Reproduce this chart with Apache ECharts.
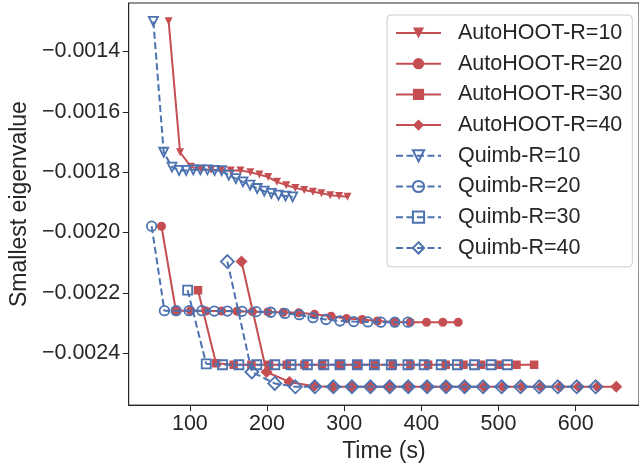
<!DOCTYPE html>
<html><head><meta charset="utf-8">
<script src="https://cdn.jsdelivr.net/npm/echarts@6/dist/echarts.min.js"></script>
<style>html,body{margin:0;padding:0;background:#fff}#c{width:639px;height:468px}</style>
</head><body><div id="c"></div>
<script>
// ---- tick labels ----
const xTicks = [100, 200, 300, 400, 500, 600];
const yTicks = [-0.0024, -0.0022, -0.0020, -0.0018, -0.0016, -0.0014];

// ---- series names ----
const seriesNames = ['AutoHOOT-R=10', 'AutoHOOT-R=20', 'AutoHOOT-R=30', 'AutoHOOT-R=40',
                     'Quimb-R=10', 'Quimb-R=20', 'Quimb-R=30', 'Quimb-R=40'];

// ---- data (time in s, smallest eigenvalue) ----
const autoR10_t = [72.5, 87.3, 101.3, 114.8, 127.5, 140.2, 152.9, 165.6, 178.3, 190.1, 201.5, 212.9, 224.8, 236.7, 248.1, 259.5, 270.5, 281.9, 293.3, 304.3];
const autoR10_v = [-0.0013, -0.001734, -0.001782, -0.001791, -0.001792, -0.001794, -0.001794, -0.001794, -0.0018, -0.001808, -0.001816, -0.001832, -0.001843, -0.001852, -0.001859, -0.001865, -0.00187, -0.001876, -0.001879, -0.001881];

const autoR20_t = [63.2, 81.9, 101, 121, 141, 161, 181, 201, 221, 241, 261.5, 283, 303, 323.3, 343, 365.6, 385.5, 406.7, 427.8, 447.7];
const autoR20_v = [-0.001979, -0.002259, -0.002259, -0.00226, -0.00226, -0.002261, -0.002262, -0.002263, -0.002264, -0.002266, -0.002271, -0.002277, -0.002285, -0.002288, -0.002293, -0.002296, -0.002297, -0.002297, -0.002297, -0.002297];

const autoR30_t = [110.5, 133.9, 156.8, 179.7, 202.6, 225.5, 248.4, 271.3, 294.2, 317.1, 340, 362.9, 385.8, 408.7, 431.6, 454.5, 477.4, 500.3, 523.2, 546.1];
const autoR30_v = [-0.002191, -0.002433, -0.002438, -0.002438, -0.002438, -0.002438, -0.002438, -0.002438, -0.002438, -0.002438, -0.002438, -0.002438, -0.002438, -0.002438, -0.002438, -0.002438, -0.002438, -0.002438, -0.002438, -0.002438];

const autoR40_t = [166.9, 199.4, 229, 260.8, 285.3, 309.8, 334.3, 358.8, 383.3, 407.8, 432.3, 456.8, 481.3, 505.8, 530.3, 554.8, 579.3, 603.8, 628.3, 652.5];
const autoR40_v = [-0.002096, -0.002462, -0.002495, -0.002509, -0.002511, -0.002511, -0.002511, -0.002511, -0.002511, -0.002511, -0.002511, -0.002511, -0.002511, -0.002511, -0.002511, -0.002511, -0.002511, -0.002511, -0.002511, -0.002511];

const quimbR10_t = [52.7, 66.1, 76.8, 86, 95.2, 104.4, 113.6, 122.8, 132, 141.2, 150.4, 159.6, 168.8, 178, 187.2, 196.4, 205.6, 214.8, 224, 233.2];
const quimbR10_v = [-0.0013, -0.001734, -0.001783, -0.001794, -0.001794, -0.001792, -0.001792, -0.001792, -0.001794, -0.001795, -0.00181, -0.001821, -0.001832, -0.001843, -0.001854, -0.001863, -0.00187, -0.001876, -0.001879, -0.001882];

const quimbR20_t = [50.5, 67, 82.2, 99.1, 115.6, 131.7, 148.6, 167.6, 185.9, 204.9, 223.1, 241.8, 259.5, 276.4, 294.5, 312.3, 330.6, 347.5, 365.6, 382.6];
const quimbR20_v = [-0.001979, -0.002259, -0.002259, -0.002259, -0.002259, -0.00226, -0.00226, -0.002261, -0.002262, -0.002264, -0.002268, -0.002272, -0.002282, -0.002288, -0.002293, -0.002295, -0.002296, -0.002297, -0.002297, -0.002297];

const quimbR30_t = [97.1, 121.2, 142.3, 163.5, 186.7, 210, 231.1, 252.3, 273.5, 294.5, 317, 339, 361, 382.6, 403.6, 425.7, 446.7, 468.8, 490.4, 511.5];
const quimbR30_v = [-0.002191, -0.002435, -0.002438, -0.002438, -0.002438, -0.002438, -0.002438, -0.002438, -0.002438, -0.002438, -0.002438, -0.002438, -0.002438, -0.002438, -0.002438, -0.002438, -0.002438, -0.002438, -0.002438, -0.002438];

const quimbR40_t = [148.6, 180.3, 210, 236.7, 262, 286, 310, 334, 359, 383, 407.5, 432, 456, 480, 504, 528.5, 552.7, 576.8, 601.3, 625.8];
const quimbR40_v = [-0.002096, -0.002462, -0.0025, -0.002511, -0.002511, -0.002511, -0.002511, -0.002511, -0.002511, -0.002511, -0.002511, -0.002511, -0.002511, -0.002511, -0.002511, -0.002511, -0.002511, -0.002511, -0.002511, -0.002511];

// ---- styling ----
const RED = '#C44E52', BLUE = '#4C72B0', INK = '#262626';
const FONT = '"Liberation Sans", Arial, Helvetica, sans-serif';

function pairs(t, v) { return t.map((x, i) => [x, v[i]]); }

function autoSeries(name, t, v, symbol, size, rotate) {
  return {
    name, type: 'line', data: pairs(t, v),
    symbol, symbolSize: size, symbolRotate: rotate || 0, showSymbol: true,
    lineStyle: { color: RED, width: 2, type: 'solid' },
    itemStyle: { color: RED, borderColor: RED, borderWidth: 0 },
    emphasis: { disabled: true }, z: 2
  };
}
function quimbSeries(name, t, v, symbol, size, rotate) {
  return {
    name, type: 'line', data: pairs(t, v),
    symbol, symbolSize: size, symbolRotate: rotate || 0, showSymbol: true,
    lineStyle: { color: BLUE, width: 2, type: [7, 3.5] },
    itemStyle: { color: 'rgba(255,255,255,0)', borderColor: BLUE, borderWidth: 1.8 },
    emphasis: { disabled: true }, z: 3
  };
}

const fmtY = v => (v < 0 ? '\u2212' : '') + Math.abs(v).toFixed(4);

const chart = echarts.init(document.getElementById('c'), null, { renderer: 'canvas' });
chart.setOption({
  animation: false,
  backgroundColor: '#ffffff',
  grid: { left: 122.5, right: -4.6, top: 3, bottom: 56, show: true, borderColor: INK, borderWidth: 1, backgroundColor: 'rgba(0,0,0,0)' },
  xAxis: {
    type: 'value', min: 20.75, max: 682,
    name: 'Time (s)', nameLocation: 'middle', nameGap: 30,
    nameTextStyle: { fontFamily: FONT, fontSize: 23, color: INK },
    axisLine: { show: true, lineStyle: { color: INK, width: 1 } },
    axisTick: { show: true, length: 6, lineStyle: { color: INK, width: 1 }, customValues: xTicks },
    axisLabel: { fontFamily: FONT, fontSize: 21.5, color: INK, margin: 8, customValues: xTicks },
    splitLine: { show: false }
  },
  yAxis: {
    type: 'value', min: -0.0025717, max: -0.0012394,
    name: 'Smallest eigenvalue', nameLocation: 'middle', nameGap: 92,
    nameTextStyle: { fontFamily: FONT, fontSize: 23, color: INK },
    axisLine: { show: true, lineStyle: { color: INK, width: 1 } },
    axisTick: { show: true, length: 6, lineStyle: { color: INK, width: 1 }, customValues: yTicks },
    axisLabel: { fontFamily: FONT, fontSize: 21.5, color: INK, margin: 8.5, customValues: yTicks, formatter: fmtY },
    splitLine: { show: false }
  },
  legend: {
    orient: 'vertical', left: 387, top: 15,
    itemWidth: 45, itemHeight: 14, itemGap: 8.7,
    padding: [7, 10, 8, 8],
    backgroundColor: 'rgba(255,255,255,0.8)', borderColor: '#cccccc', borderWidth: 1, borderRadius: 4,
    textStyle: { fontFamily: FONT, fontSize: 21.5, color: INK, lineHeight: 22, padding: [0, 0, 0, 12] },
    data: seriesNames
  },
  series: [
    autoSeries(seriesNames[0], autoR10_t, autoR10_v, 'triangle', 8, 180),
    autoSeries(seriesNames[1], autoR20_t, autoR20_v, 'circle', 9),
    autoSeries(seriesNames[2], autoR30_t, autoR30_v, 'rect', 8.5),
    autoSeries(seriesNames[3], autoR40_t, autoR40_v, 'diamond', 12),
    quimbSeries(seriesNames[4], quimbR10_t, quimbR10_v, 'triangle', 9, 180),
    quimbSeries(seriesNames[5], quimbR20_t, quimbR20_v, 'circle', 9.5),
    quimbSeries(seriesNames[6], quimbR30_t, quimbR30_v, 'rect', 9),
    quimbSeries(seriesNames[7], quimbR40_t, quimbR40_v, 'diamond', 13)
  ]
});
</script>
</body></html>
